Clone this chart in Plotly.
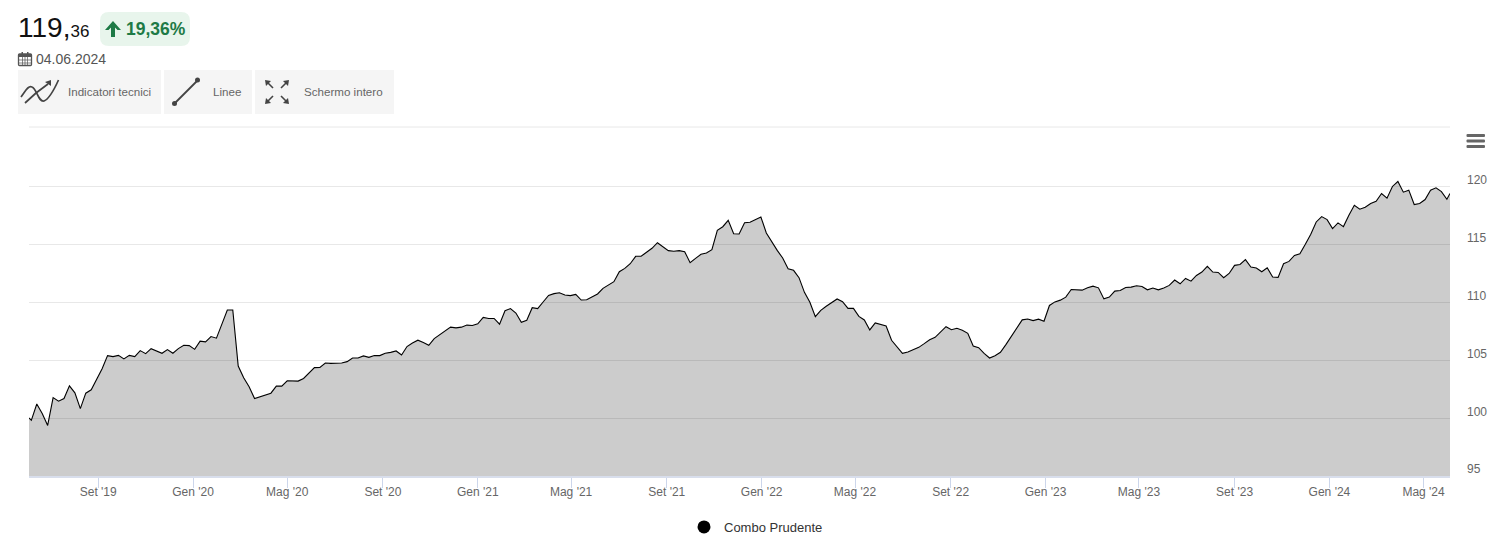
import pandas as pd
import plotly.graph_objects as go

# ---- data ----
series_name = "Combo Prudente"
values = [
    100.00, 99.80, 101.21, 100.38, 99.36, 101.76, 101.45, 101.68, 102.77, 102.17,
    100.81, 102.14, 102.43, 103.32, 104.25, 105.38, 105.29, 105.40, 105.09, 105.40,
    105.29, 105.81, 105.55, 105.98, 105.78, 105.58, 105.90, 105.58, 105.98, 106.27,
    106.24, 105.92, 106.62, 106.56, 107.02, 106.88, 108.09, 109.31, 109.31, 104.48,
    103.47, 102.69, 101.68, 101.85, 102.02, 102.14, 102.75, 102.75, 103.21, 103.21,
    103.18, 103.41, 103.84, 104.34, 104.36, 104.74, 104.71, 104.71, 104.74, 104.86,
    105.17, 105.17, 105.35, 105.23, 105.38, 105.38, 105.58, 105.66, 105.78, 105.43,
    106.16, 106.47, 106.71, 106.50, 106.27, 106.85, 107.17, 107.51, 107.83, 107.77,
    107.83, 108.01, 107.98, 108.12, 108.67, 108.58, 108.58, 108.09,
    109.25, 109.43, 109.05, 108.25, 108.42, 109.51, 109.43, 110.00, 110.57, 110.72,
    110.80, 110.60, 110.55, 110.66, 110.17, 110.20, 110.46, 110.69, 111.18, 111.47,
    111.75, 112.61, 112.90, 113.30, 113.94, 113.94, 114.28, 114.63, 115.11, 114.74,
    114.43, 114.37, 114.43, 114.34, 113.39, 113.76, 114.11, 114.22, 114.51, 116.18,
    116.49, 117.04, 115.89, 115.86, 116.84, 116.87, 117.10, 117.33, 115.95, 115.14,
    114.45, 113.79, 112.87, 112.73, 112.10, 110.83, 109.97, 108.74, 109.28, 109.63,
    109.97, 110.26, 110.03, 109.45, 109.45, 108.76, 108.45, 107.59, 108.19, 108.05,
    107.93, 106.70, 106.12, 105.57, 105.69, 105.89, 106.09, 106.41, 106.75, 106.95,
    107.44, 107.87, 107.61, 107.73, 107.56, 107.30, 106.21, 106.06, 105.57, 105.17,
    105.37,
    105.66, 106.33, 107.05, 107.80, 108.46, 108.54, 108.40, 108.52, 108.34, 109.70,
    110.01, 110.16, 110.42, 111.08, 111.02, 111.02, 111.22, 111.37, 111.22, 110.27,
    110.42, 110.94, 110.99, 111.25, 111.28, 111.40, 111.34, 111.05, 111.20, 111.05,
    111.20, 111.43, 111.89, 111.57, 112.03, 111.80, 112.29, 112.58, 113.07, 112.58,
    112.55, 112.09, 112.46, 113.16, 113.24, 113.65, 113.01, 112.93, 112.61, 112.95,
    112.15, 112.12, 113.30, 113.50, 114.02, 114.16, 114.97, 115.84, 116.90, 117.36,
    117.10, 116.33, 116.82, 116.50, 117.48, 118.34, 118.00, 118.17, 118.49, 118.69,
    119.35, 118.95, 119.96, 120.39, 119.47, 119.64, 118.40, 118.49, 118.83, 119.64,
    119.84, 119.52, 118.86, 119.36,
]
first_date = "2019-06-04"
first_friday = "2019-06-07"
last_friday = "2024-05-31"
last_date = "2024-06-04"
x_tick_dates = ["2019-09-01", "2020-01-01", "2020-05-01", "2020-09-01", "2021-01-01",
                "2021-05-01", "2021-09-01", "2022-01-01", "2022-05-01", "2022-09-01",
                "2023-01-01", "2023-05-01", "2023-09-01", "2024-01-01", "2024-05-01"]
x_tick_labels = ["Set '19", "Gen '20", "Mag '20", "Set '20", "Gen '21", "Mag '21", "Set '21",
                 "Gen '22", "Mag '22", "Set '22", "Gen '23", "Mag '23", "Set '23", "Gen '24", "Mag '24"]
y_ticks = [95, 100, 105, 110, 115, 120]
price_int = "119,"
price_dec = "36"
change_label = "19,36%"
date_label = "04.06.2024"
buttons = ["Indicatori tecnici", "Linee", "Schermo intero"]

dates = [pd.Timestamp(first_date)] + list(pd.date_range(first_friday, last_friday, freq="7D")) + [pd.Timestamp(last_date)]

# ---- page geometry (the page body adds an 8 px margin, so the figure is offset) ----
OX, OY = -8, -8
W, H = 1499, 548
L, R, T, B = 29 + OX, 1450 + OX, 127 + OY, 476 + OY
FONT = "Liberation Sans"


def px(x):
    return (x + OX - L) / (R - L)


def py(y):
    return (B - (y + OY)) / (B - T)


def path(*cmds):
    out = []
    for c in cmds:
        if isinstance(c, str):
            out.append(c)
        else:
            out.append(f"{px(c[0]):.5f},{py(c[1]):.5f}")
    return " ".join(out)


def rrect(x0, y0, x1, y1, r):
    return path("M", (x0 + r, y0), "L", (x1 - r, y0), "Q", (x1, y0), (x1, y0 + r), "L", (x1, y1 - r),
                "Q", (x1, y1), (x1 - r, y1), "L", (x0 + r, y1), "Q", (x0, y1), (x0, y1 - r),
                "L", (x0, y0 + r), "Q", (x0, y0), (x0 + r, y0), "Z")


shapes = []


def add_path(d, fill=None, line=None, width=0):
    s = dict(type="path", xref="paper", yref="paper", path=d, layer="above")
    s["fillcolor"] = fill if fill else "rgba(0,0,0,0)"
    s["line"] = dict(color=line if line else "rgba(0,0,0,0)", width=width)
    shapes.append(s)


def add_rect(x0, y0, x1, y1, fill):
    shapes.append(dict(type="rect", xref="paper", yref="paper", x0=px(x0), x1=px(x1), y0=py(y0), y1=py(y1),
                       fillcolor=fill, line=dict(width=0), layer="above"))


def add_dot(cx, cy, r, fill):
    shapes.append(dict(type="circle", xref="paper", yref="paper", x0=px(cx - r), x1=px(cx + r),
                       y0=py(cy - r), y1=py(cy + r), fillcolor=fill, line=dict(width=0), layer="above"))


def text(x, y, s, size, color, anchor="left", bold=False):
    return dict(xref="paper", yref="paper", x=px(x), y=py(y), text=f"<b>{s}</b>" if bold else s,
                showarrow=False, xanchor=anchor, yanchor="middle", align="left",
                borderpad=0, borderwidth=0,
                font=dict(family=FONT, size=size, color=color))


ann = []
# top border line of the plot
shapes.append(dict(type="line", xref="paper", yref="paper", x0=0, x1=1, y0=1, y1=1,
                   line=dict(color="#e8e8e8", width=1), layer="below"))

# header
ann.append(text(18, 28, f"{price_int}<span style='font-size:17px'>{price_dec}</span>", 28, "#111111"))
add_path(rrect(100, 12, 190, 46, 9), fill="#e8f5ec")
add_path(path("M", (113, 21), "L", (121, 30), "L", (117.5, 30), "L", (115, 27.5), "L", (115, 37), "L", (111, 37),
              "L", (111, 27.5), "L", (108.5, 30), "L", (105, 30), "Z"), fill="#1e7a46")
ann.append(text(126, 28.7, change_label, 17.5, "#1e7a46", bold=True))

# calendar icon + date
cal = "#555555"
add_path(rrect(18.5, 54, 31.5, 65.5, 1), line=cal, width=1.3)
add_rect(18.5, 54, 31.5, 57, cal)
add_rect(21.5, 52, 23, 55, cal)
add_rect(27, 52, 28.5, 55, cal)
add_path(path("M", (18.5, 60), "L", (31.5, 60), "M", (18.5, 63), "L", (31.5, 63), "M", (22.5, 57), "L", (22.5, 65.5),
              "M", (25, 57), "L", (25, 65.5), "M", (27.5, 57), "L", (27.5, 65.5)), line=cal, width=0.7)
ann.append(text(35.5, 59, date_label, 14, "#555555"))

# buttons
for x0, x1 in [(18, 161), (164, 252), (255, 394)]:
    add_rect(x0, 70, x1, 114, "#f5f5f5")
ann.append(text(67.5, 91.3, buttons[0], 11.6, "#666666"))
ann.append(text(213, 91.3, buttons[1], 11.6, "#666666"))
ann.append(text(304, 91.3, buttons[2], 11.6, "#666666"))

icon = "#444444"
# indicators icon
add_path(path("M", (21, 97), "C", (25, 92), (28, 85), (32, 87), "C", (37, 89), (38, 102), (44, 101),
              "C", (49, 99), (54, 90), (58.5, 80)), line=icon, width=1.7)
add_path(path("M", (25, 103), "L", (36, 93), "L", (48, 84)), line=icon, width=1.7)
add_path(path("M", (51, 80), "L", (51, 86), "L", (45, 82), "Z"), fill=icon)
# line icon
add_path(path("M", (174, 104), "L", (198, 80)), line=icon, width=1.8)
add_dot(174.5, 103.5, 2.5, icon)
add_dot(197.5, 80, 2.5, icon)
# full-screen icon
for (tx, ty, sx, sy) in [(265, 80, 1, 1), (289, 80, -1, 1), (265, 104, 1, -1), (289, 104, -1, -1)]:
    add_path(path("M", (tx + 3 * sx, ty + 3 * sy), "L", (tx + 8 * sx, ty + 8 * sy)), line=icon, width=1.6)
    add_path(path("M", (tx, ty), "L", (tx + 6 * sx, ty + 1 * sy), "L", (tx + 1 * sx, ty + 6 * sy), "Z"), fill=icon)

# hamburger
for yy in (135.5, 141, 146.5):
    add_path(rrect(1466.5, yy - 1.5, 1485, yy + 1.5, 1), fill="#666666")

# y labels sit above their gridlines, so they are placed with a shift from the axis value
for v in y_ticks:
    ann.append(dict(xref="paper", yref="y", x=px(1467), y=v, yshift=6.5 if v > 95 else 7, text=str(v), showarrow=False,
                    xanchor="left", yanchor="middle", borderpad=0, borderwidth=0,
                    font=dict(family=FONT, size=12, color="#666666")))

fig = go.Figure()
fig.add_trace(go.Scatter(x=dates, y=values, mode="lines", name=series_name, showlegend=False,
                         line=dict(color="#000000", width=1.1), fill="tozeroy",
                         fillcolor="rgba(0,0,0,0.2)", hoverinfo="x+y"))
fig.add_trace(go.Scatter(x=[None], y=[None], mode="markers", name=series_name,
                         marker=dict(color="#000000", size=13)))
fig.update_layout(
    width=W, height=H, autosize=False,
    margin=dict(l=L, r=W - R, t=T, b=H - B, pad=0),
    paper_bgcolor="#ffffff", plot_bgcolor="#ffffff",
    font=dict(family=FONT, size=12, color="#666666"),
    shapes=shapes, annotations=ann,
    showlegend=True,
    legend=dict(orientation="h", x=px(684), xanchor="left", y=py(527), yanchor="middle",
                font=dict(family=FONT, size=13, color="#333333"), bgcolor="rgba(0,0,0,0)"),
    xaxis=dict(type="date", range=[dates[0], dates[-1]], tickmode="array", tickvals=x_tick_dates,
               ticktext=x_tick_labels, ticks="outside", ticklen=10, tickcolor="#ccd6eb", tickwidth=1,
               ticklabelstandoff=-6, automargin=False,
               showline=True, linecolor="#d8deec", linewidth=2, showgrid=False, zeroline=False,
               tickfont=dict(family=FONT, size=12, color="#666666")),
    yaxis=dict(range=[95, 95 + 349 / 11.6], tickmode="array", tickvals=y_ticks, showticklabels=False,
               automargin=False,
               gridcolor="#e8e8e8", gridwidth=1, zeroline=False, showline=False, ticks=""),
)
fig.write_html("out.html")
